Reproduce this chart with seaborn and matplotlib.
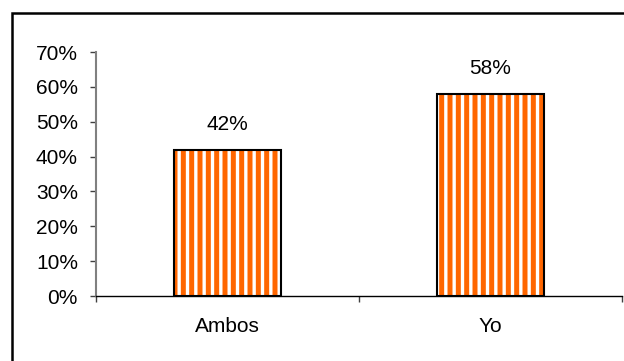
import numpy as np
import pandas as pd
import matplotlib
matplotlib.use("Agg")
import matplotlib.pyplot as plt
from matplotlib.patches import Rectangle
from matplotlib.ticker import FuncFormatter, FixedLocator
import seaborn as sns

# data
categories = ["Ambos", "Yo"]
values = [42, 58]          # percent
yticks = [0, 10, 20, 30, 40, 50, 60, 70]

data = pd.DataFrame({"cat": categories, "pct": values})

sns.set_style("white")
plt.rcParams["font.family"] = ["Liberation Sans", "DejaVu Sans"]
plt.rcParams["hatch.linewidth"] = 2.4
plt.rcParams["text.color"] = "black"
plt.rcParams["xtick.color"] = "black"
plt.rcParams["ytick.color"] = "black"

fig = plt.figure(figsize=(6.24, 3.61), dpi=100)
ax = fig.add_axes([96/624, 1-296/361, (622-96)/624, (296-52)/361])

# striped fill: orange bars with white vertical hatching
sns.barplot(data=data, x="cat", y="pct", color="#FF6600", saturation=1,
            width=0.41, edgecolor="white", linewidth=0, hatch="||", ax=ax)
# black outline on top
sns.barplot(data=data, x="cat", y="pct", color="black", fill=False,
            width=0.41, linewidth=1.5, ax=ax)

for i, v in enumerate(values):
    ax.annotate(f"{v}%", xy=(i, v), xytext=(0, 11.5), textcoords="offset points",
                ha="center", va="bottom", fontsize=15, color="black")

ax.set_xlim(-0.5, 1.5)
ax.set_ylim(0, 70)
ax.set_yticks(yticks)
ax.yaxis.set_major_formatter(FuncFormatter(lambda v, p: f"{int(v)}%"))
ax.xaxis.set_minor_locator(FixedLocator([-0.5, 0.5, 1.5]))
ax.tick_params(axis="x", which="major", length=0, pad=15, labelsize=15,
               labelcolor="black")
ax.tick_params(axis="x", which="minor", length=4, width=1, color="#404040",
               direction="out", bottom=True)
ax.tick_params(axis="y", length=4.5, width=1, color="#404040", pad=8.5,
               labelsize=15, labelcolor="black", direction="out", left=True)
ax.set_xlabel("")
ax.set_ylabel("")

for s in ["top", "right"]:
    ax.spines[s].set_visible(False)
ax.spines["left"].set_color("#808080")
ax.spines["left"].set_linewidth(1.5)
ax.spines["bottom"].set_color("black")
ax.spines["bottom"].set_linewidth(1)

# outer chart frame (right and bottom edges fall outside the image)
fig.patches.append(Rectangle((12/624, -0.2), 1.2, 1-13/361+0.2,
                             transform=fig.transFigure, fill=False,
                             edgecolor="black", linewidth=1.8))

fig.savefig("out.png", dpi=100)
